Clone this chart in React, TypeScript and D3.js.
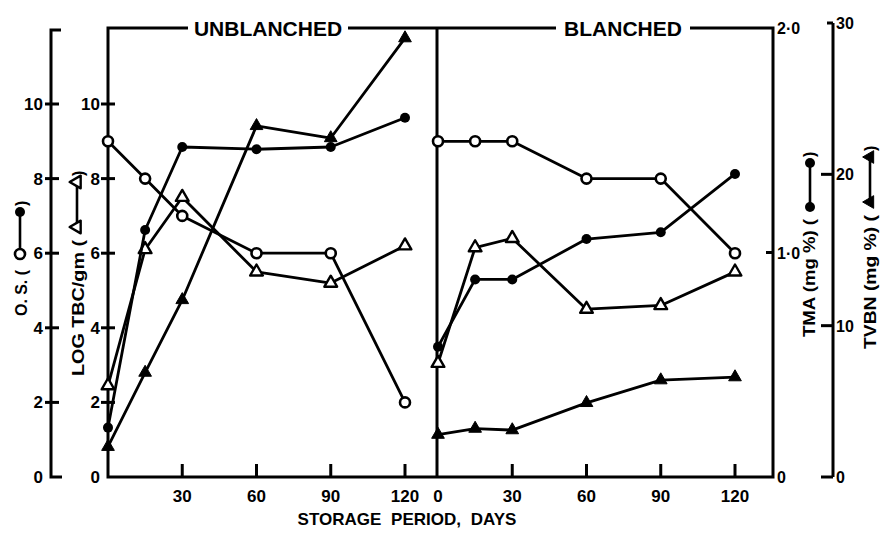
import React from "react";
import * as d3 from "d3";

// storage period (days) at which every series was sampled
const days = [0, 15, 30, 60, 90, 120];

// unblanched
const osUnblanched = [9.0, 8.0, 7.0, 6.0, 6.0, 2.0];
const tbcUnblanched = [2.45, 6.1, 7.5, 5.5, 5.2, 6.2];
const tmaUnblanched = [0.22, 1.1, 1.47, 1.46, 1.47, 1.6];
const tvbnUnblanched = [2.0, 6.9, 11.7, 23.2, 22.4, 29.0];

// blanched
const osBlanched = [9.0, 9.0, 9.0, 8.0, 8.0, 6.0];
const tbcBlanched = [3.05, 6.15, 6.4, 4.5, 4.6, 5.5];
const tmaBlanched = [0.58, 0.88, 0.88, 1.06, 1.09, 1.35];
const tvbnBlanched = [2.8, 3.2, 3.1, 4.9, 6.4, 6.6];

const leftTicks = [0, 2, 4, 6, 8, 10];
const unblanchedDayTicks = [30, 60, 90, 120];
const blanchedDayTicks = [0, 30, 60, 90, 120];
const tmaTicks = [0, 1, 2];
const tmaTickLabels = ["0", "1·0", "2·0"];
const tvbnTicks = [0, 10, 20, 30];

const width = 880;
const height = 533;
const FONT = "'Liberation Sans', Arial, Helvetica, sans-serif";

const bottom = 477;
const outerX = 51;
const innerX = 108;
const dividerX = 437;
const tmaX = 773;
const tvbnX = 833;

const xU = d3.scaleLinear().domain([0, 120]).range([innerX, 405]);
const xB = d3.scaleLinear().domain([0, 120]).range([438, 735]);
const yLeft = d3.scaleLinear().domain([0, 10]).range([bottom, 104]);
const yTMA = d3.scaleLinear().domain([0, 2]).range([bottom, 28]);
const yTVBN = d3.scaleLinear().domain([0, 30]).range([bottom, 23]);
const top = yTMA(2);

type Kind = "openCircle" | "filledCircle" | "openTri" | "filledTri";

const tri = d3.symbol().type(d3.symbolTriangle).size(70)();

const Marker = ({ kind, x, y }: { kind: Kind; x: number; y: number }) => {
  if (kind === "openCircle")
    return <circle cx={x} cy={y} r={5} fill="#fff" stroke="#000" strokeWidth={2.6} />;
  if (kind === "filledCircle") return <circle cx={x} cy={y} r={5} fill="#000" />;
  return (
    <path
      d={tri as string}
      transform={`translate(${x},${y})`}
      fill={kind === "filledTri" ? "#000" : "#fff"}
      stroke="#000"
      strokeWidth={kind === "filledTri" ? 1 : 2.4}
      strokeLinejoin="round"
    />
  );
};

const Series = ({
  values,
  x,
  y,
  kind,
}: {
  values: number[];
  x: d3.ScaleLinear<number, number>;
  y: d3.ScaleLinear<number, number>;
  kind: Kind;
}) => {
  const pts: [number, number][] = values.map((v, i) => [x(days[i]), y(v)]);
  const line = d3.line();
  return (
    <g>
      <path d={line(pts) || ""} fill="none" stroke="#000" strokeWidth={2.8} strokeLinejoin="round" />
      {pts.map((p, i) => (
        <Marker key={i} kind={kind} x={p[0]} y={p[1]} />
      ))}
    </g>
  );
};

// rotated axis title with its little legend glyph in brackets
const Title = ({
  x,
  y,
  label,
  len,
  kindLow,
  kindHigh,
  g0,
  g1,
  v,
}: {
  x: number;
  y: number;
  label: string;
  len: number;
  kindLow: Kind;
  kindHigh: Kind;
  g0: number;
  g1: number;
  v: number;
}) => (
  <g transform={`translate(${x},${y}) rotate(-90)`}>
    <text x={0} y={0} fontSize={16} textLength={len} lengthAdjust="spacingAndGlyphs">
      {label}
    </text>
    <line x1={g0} x2={g1} y1={v} y2={v} stroke="#000" strokeWidth={2.6} />
    <Marker kind={kindLow} x={g0} y={v} />
    <Marker kind={kindHigh} x={g1} y={v} />
    <text x={g1 + 6} y={0} fontSize={16}>
      )
    </text>
  </g>
);

const App = () => {
  const axis = { stroke: "#000", strokeWidth: 3, fill: "none" };
  return (
    <svg
      width={width}
      height={height}
      style={{ position: "absolute", left: 0, top: 0, background: "#fff" }}
      fontFamily={FONT}
      fontWeight="bold"
    >
      <rect width={width} height={height} fill="#fff" />

      {/* outer O.S. axis */}
      <path d={`M${outerX + 10},30 H${outerX} V${bottom} H${outerX + 11}`} {...axis} />
      {leftTicks.map((t) => (
        <g key={"o" + t}>
          {t > 0 && <line x1={outerX - 6} x2={outerX + 8} y1={yLeft(t)} y2={yLeft(t)} {...axis} />}
          <text x={outerX - 8} y={yLeft(t) + 6} fontSize={17} textAnchor="end">
            {t}
          </text>
        </g>
      ))}

      {/* inner LOG TBC axis */}
      {leftTicks.map((t) => (
        <g key={"i" + t}>
          {t > 0 && <line x1={innerX - 7} x2={innerX + 7} y1={yLeft(t)} y2={yLeft(t)} {...axis} />}
          <text x={innerX - 8} y={yLeft(t) + 6} fontSize={17} textAnchor="end">
            {t}
          </text>
        </g>
      ))}

      {/* frame */}
      <path d={`M${innerX},${bottom} V${top} H${tmaX} V${bottom} Z`} {...axis} />
      <line x1={dividerX} x2={dividerX} y1={top} y2={bottom} {...axis} />

      {/* x ticks */}
      {unblanchedDayTicks.map((t) => (
        <g key={"u" + t}>
          <line x1={xU(t)} x2={xU(t)} y1={bottom} y2={bottom - 13} {...axis} />
          <text x={xU(t)} y={502} fontSize={17} textAnchor="middle">
            {t}
          </text>
        </g>
      ))}
      {blanchedDayTicks.map((t) => (
        <g key={"b" + t}>
          {t > 0 && <line x1={xB(t)} x2={xB(t)} y1={bottom} y2={bottom - 13} {...axis} />}
          <text x={xB(t)} y={502} fontSize={17} textAnchor="middle">
            {t}
          </text>
        </g>
      ))}
      <text x={407} y={525} fontSize={17} textAnchor="middle" wordSpacing={5}>
        STORAGE PERIOD, DAYS
      </text>

      {/* TMA axis labels */}
      {tmaTicks.map((t, i) => (
        <g key={"m" + t}>
          {t === 1 && <line x1={tmaX - 7} x2={tmaX} y1={yTMA(t)} y2={yTMA(t)} {...axis} />}
          <text x={tmaX + 4} y={yTMA(t) + 6} fontSize={16}>
            {tmaTickLabels[i]}
          </text>
        </g>
      ))}

      {/* TVBN axis */}
      <line x1={tvbnX} x2={tvbnX} y1={yTVBN(30)} y2={bottom} {...axis} />
      {tvbnTicks.map((t) => (
        <g key={"v" + t}>
          <line x1={tvbnX - (t === 30 ? 6 : 12)} x2={tvbnX} y1={yTVBN(t)} y2={yTVBN(t)} {...axis} />
          <text x={tvbnX + 3} y={yTVBN(t) + 6} fontSize={16}>
            {t}
          </text>
        </g>
      ))}

      {/* panel headings */}
      <rect x={188} y={18} width={160} height={22} fill="#fff" />
      <text x={268} y={36} fontSize={21} textAnchor="middle">
        UNBLANCHED
      </text>
      <rect x={556} y={18} width={134} height={22} fill="#fff" />
      <text x={623} y={36} fontSize={21} textAnchor="middle">
        BLANCHED
      </text>

      {/* unblanched series */}
      <Series values={osUnblanched} x={xU} y={yLeft} kind="openCircle" />
      <Series values={tbcUnblanched} x={xU} y={yLeft} kind="openTri" />
      <Series values={tmaUnblanched} x={xU} y={yTMA} kind="filledCircle" />
      <Series values={tvbnUnblanched} x={xU} y={yTVBN} kind="filledTri" />

      {/* blanched series */}
      <Series values={osBlanched} x={xB} y={yLeft} kind="openCircle" />
      <Series values={tbcBlanched} x={xB} y={yLeft} kind="openTri" />
      <Series values={tmaBlanched} x={xB} y={yTMA} kind="filledCircle" />
      <Series values={tvbnBlanched} x={xB} y={yTVBN} kind="filledTri" />

      {/* axis titles */}
      <Title x={27} y={316} label="O. S. (" len={46} kindLow="openCircle" kindHigh="filledCircle" g0={62} g1={104} v={-7} />
      <Title x={84} y={376} label="LOG TBC/gm (" len={136} kindLow="openTri" kindHigh="openTri" g0={149} g1={194} v={-7} />
      <Title x={815} y={337} label="TMA (mg %) (" len={118} kindLow="filledCircle" kindHigh="filledCircle" g0={130} g1={174} v={-5} />
      <Title x={876} y={349} label="TVBN (mg %) (" len={134} kindLow="filledTri" kindHigh="filledTri" g0={147} g1={192} v={-6} />
    </svg>
  );
};

export default App;
